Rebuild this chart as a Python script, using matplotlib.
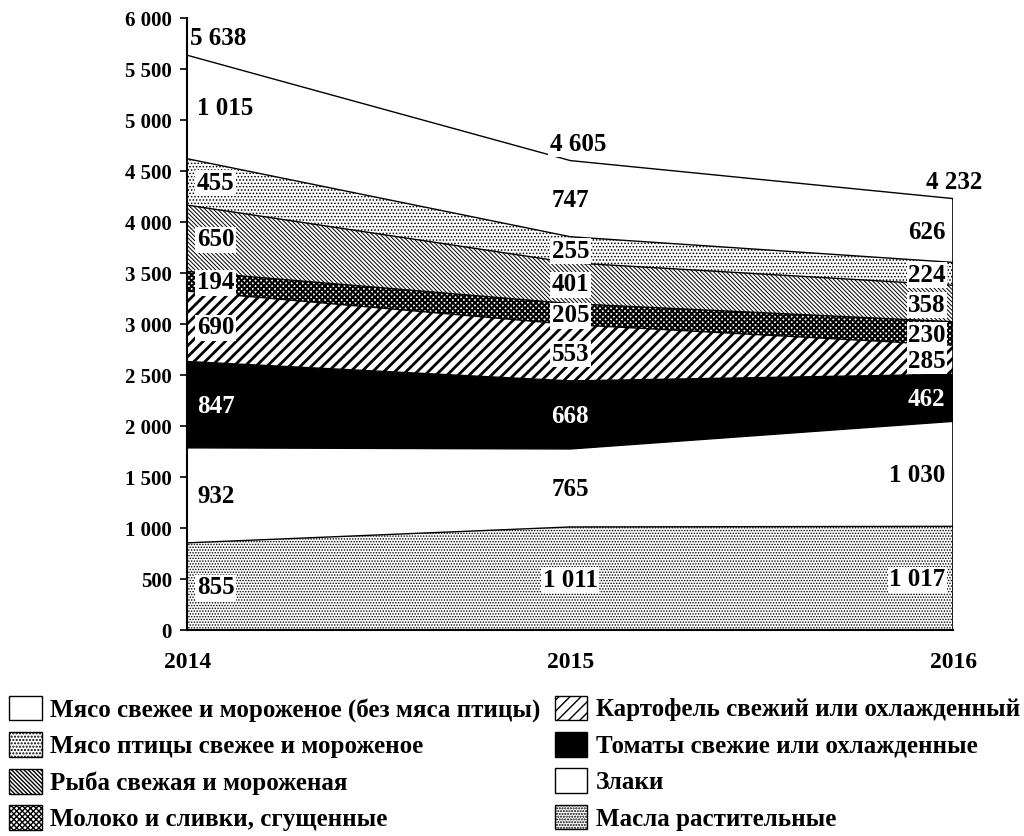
import numpy as np
import matplotlib
matplotlib.use("Agg")
import matplotlib.pyplot as plt
from matplotlib.patches import Patch
from matplotlib.ticker import FuncFormatter

plt.rcParams['font.family'] = ['Liberation Serif', 'DejaVu Serif']
plt.rcParams['font.weight'] = 'bold'

# --- данные (снизу вверх) ---
years = [2014, 2015, 2016]
categories = [
    "Масла растительные",
    "Злаки",
    "Томаты свежие или охлажденные",
    "Картофель свежий или охлажденный",
    "Молоко и сливки, сгущенные",
    "Рыба свежая и мороженая",
    "Мясо птицы свежее и мороженое",
    "Мясо свежее и мороженое (без мяса птицы)",
]
oils = [855, 1011, 1017]
cereals = [932, 765, 1030]
tomatoes = [847, 668, 462]
potatoes = [690, 553, 285]
milk = [194, 205, 230]
fish = [650, 401, 358]
poultry = [455, 255, 224]
meat = [1015, 747, 626]
series = [oils, cereals, tomatoes, potatoes, milk, fish, poultry, meat]
totals = [5638, 4605, 4232]

# стиль слоёв: заливка, штриховка, толщина штриховки
styles = [
    ("white", "......", 0.7),
    ("white", "", 1.0),
    ("black", "", 1.0),
    ("white", "///", 2.0),
    ("white", "XXXXXX", 1.5),
    ("white", "\\\\\\\\\\\\\\\\", 0.7),
    ("white", ".....", 0.7),
    ("white", "", 1.0),
]

fig = plt.figure(figsize=(10.24, 8.36), dpi=100)
ax = fig.add_axes([0.183, 0.2464, 0.748, 0.7316])

x = np.array(years)
bottom = np.zeros(3)
handles = []
for vals, (fc, hatch, hlw), name in zip(series, styles, categories):
    top = bottom + np.array(vals)
    with plt.rc_context({'hatch.linewidth': hlw}):
        ax.fill_between(x, bottom, top, facecolor=fc, edgecolor='black',
                        hatch=hatch, linewidth=0, zorder=1)
        handles.append(Patch(facecolor=fc, edgecolor='black', hatch=hatch,
                             linewidth=1.0, label=name))
    ax.plot(x, top, color='black', lw=1.0, zorder=2)
    bottom = top
ax.plot([2016, 2016], [0, totals[2]], color='black', lw=1.2, zorder=2)

# подписи значений
fmt = lambda v: f"{v:,}".replace(",", " ")
bottom = np.zeros(3)
for k, vals in enumerate(series):
    for i, v in enumerate(vals):
        y = bottom[i] + v / 2 - 15
        if i == 0:
            xx, ha = 2014.025, 'left'
        elif i == 1:
            xx, ha = 2015.0, 'center'
        else:
            xx, ha = 2015.98, 'right'
        if k == 2:
            ax.text(xx, y, fmt(v), ha=ha, va='center', fontsize=18,
                    color='white', zorder=5)
        else:
            ax.text(xx, y, fmt(v), ha=ha, va='center', fontsize=18,
                    color='black', zorder=5,
                    bbox=dict(facecolor='white', edgecolor='none', pad=1.0))
    bottom = bottom + np.array(vals)

ax.text(2014.008, totals[0] + 160, fmt(totals[0]), ha='left', va='center',
        fontsize=18, zorder=5)
ax.text(2015.02, totals[1] + 160, fmt(totals[1]), ha='center', va='center',
        fontsize=18, zorder=5,
        bbox=dict(facecolor='white', edgecolor='none', pad=1.0))
ax.text(2016.075, totals[2] + 160, fmt(totals[2]), ha='right', va='center',
        fontsize=18, zorder=5, clip_on=False)

ax.set_xlim(2014, 2016)
ax.set_ylim(0, 6000)
ax.set_xticks(years)
ax.set_yticks(np.arange(0, 6001, 500))
ax.yaxis.set_major_formatter(FuncFormatter(lambda v, p: fmt(int(v))))
ax.tick_params(axis='y', direction='out', length=5, width=1.2, labelsize=15, pad=6)
ax.tick_params(axis='x', length=0, labelsize=17, pad=16)
for s in ['top', 'right']:
    ax.spines[s].set_visible(False)
ax.spines['left'].set_linewidth(1.5)
ax.spines['bottom'].set_linewidth(1.5)

# легенда: первый столбец — верхние слои
order = [7, 6, 5, 4, 3, 2, 1, 0]
fig.legend([handles[i] for i in order], [categories[i] for i in order],
           ncol=2, loc='upper left', bbox_to_anchor=(0.009, 0.168),
           frameon=False, fontsize=18, handlelength=1.3, handleheight=1.15,
           handletextpad=0.35, columnspacing=0.55, labelspacing=0.42,
           borderpad=0, borderaxespad=0)

fig.savefig("out.png", dpi=100)
